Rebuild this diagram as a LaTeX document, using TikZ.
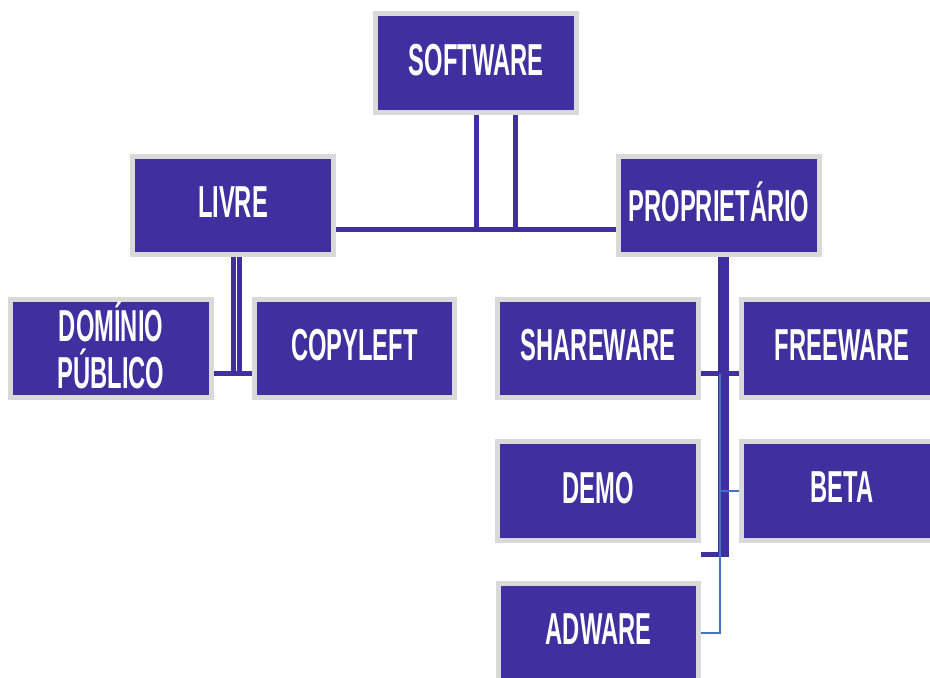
\documentclass[tikz,border=0pt]{standalone}
\usepackage{fontspec}
\newfontfamily\boxfont{Liberation Sans}[FakeStretch=0.53]
\usetikzlibrary{calc, positioning}
\definecolor{boxpurple}{HTML}{402F9F}
\definecolor{boxgrey}{HTML}{D9D9D9}
\definecolor{linkblue}{HTML}{4472C4}

\tikzset{
	catbox/.style={draw=boxgrey, fill=boxpurple, line width=0.1cm, inner sep=0pt,
		minimum width=4.02cm, minimum height=1.98cm, text=white, align=center, text depth=4pt,
		font=\boxfont\bfseries\fontsize{25.5}{26.6}\selectfont},
	link/.style={draw=boxpurple, line width=0.1cm},
	thinlink/.style={draw=linkblue, line width=0.05cm}
}

\begin{document}
\begin{tikzpicture}[x=0.02cm, y=-0.02cm]
	\useasboundingbox (0,0) rectangle (930,678);
	\node[catbox] (sw) at (476,63) {SOFTWARE};
	\node[catbox] (livre) at (233,205.5) {LIVRE};
	\node[catbox] (prop) at (719,205.5) {PROPRIETÁRIO};
	\node[catbox] (dom) at (111,348.5) {DOMÍNIO\\PÚBLICO};
	\node[catbox] (copy) at (354.5,348.5) {COPYLEFT};
	\node[catbox] (share) at (598,348.5) {SHAREWARE};
	\node[catbox] (free) at (842,348.5) {FREEWARE};
	\node[catbox] (demo) at (598,491) {DEMO};
	\node[catbox] (beta) at (842,491) {BETA};
	\node[catbox] (adw) at (598.5,633) {ADWARE};

	% software
	\coordinate (hub) at ($(livre.east)+(0,24.5)$);
	\coordinate (sw2) at ($(sw.south)+(39.5,0)$);
	\draw[link] (hub) -- ($(prop.west)+(0,24.5)$);
	\draw[link] (sw.south) -- (sw.south |- hub);
	\draw[link] (sw2) -- (sw2 |- hub);

	% livre
	\coordinate (lv) at ($(dom.east)+(0,25.5)$);
	\coordinate (lv2) at ($(livre.south)+(6,0)$);
	\draw[link] (lv) -- ($(copy.west)+(0,25.5)$);
	\draw[link] (livre.south) -- (livre.south |- lv);
	\draw[link] (lv2) -- (lv2 |- lv);

	% proprietario
	\coordinate (pv) at ($(prop.south)+(4,0)$);
	\coordinate (pl) at ($(demo.east)+(0,63.5)$);
	\draw[link, line width=0.22cm] (pv) -- ($(pv |- pl)+(0,2.5)$);
	\draw[link] ($(share.east)+(0,25.5)$) -- ($(free.west)+(0,25.5)$);
	\draw[link] (pl) -- ($(pv |- pl)+(5,0)$);
	\coordinate (bt) at ($(share.east)+(19,25.5)$);
	\draw[thinlink] (bt) |- (adw.east);
	\draw[thinlink] (beta.west) -- (beta.west -| bt);
\end{tikzpicture}
\end{document}
